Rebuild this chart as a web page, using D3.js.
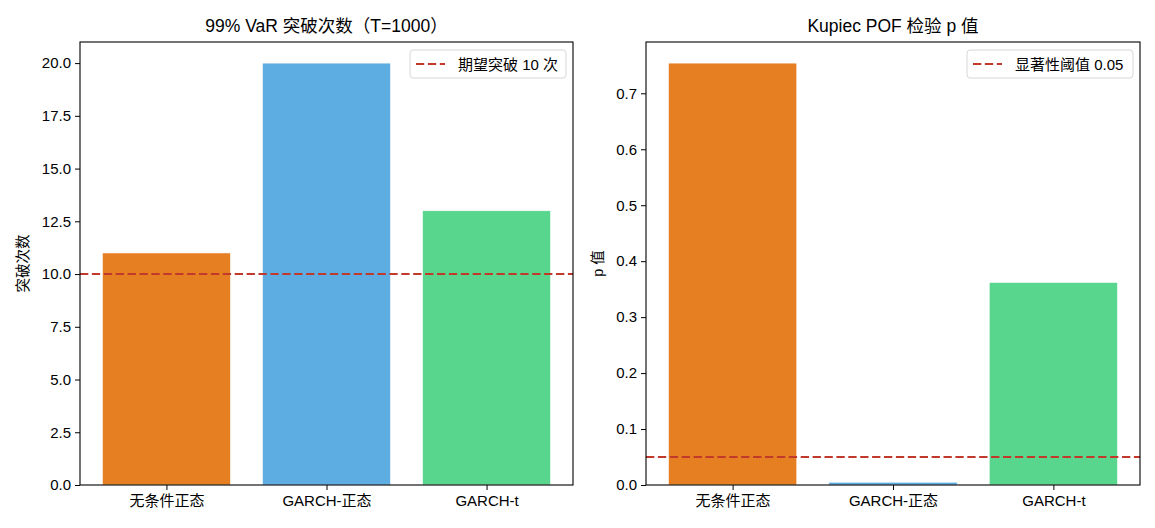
<!DOCTYPE html>
<html>
<head>
<meta charset="utf-8">
<script src="https://cdn.jsdelivr.net/npm/d3@7"></script>
<style>
  body { margin: 0; background: #fff; }
  svg text { font-family: "Liberation Sans", "Noto Sans CJK SC", sans-serif; fill: #000; }
</style>
</head>
<body>
<div id="chart"></div>
<script>
// Data
const models = ['无条件正态', 'GARCH-正态', 'GARCH-t'];
const barColors = ['#e67e22', '#5dade2', '#58d68d'];
const breachCounts = [11, 20, 13];
const expectedBreaches = 10;
const pValues = [0.754, 0.005, 0.362];
const alphaLevel = 0.05;
const countTicks = [0, 2.5, 5, 7.5, 10, 12.5, 15, 17.5, 20];
const pTicks = [0, 0.1, 0.2, 0.3, 0.4, 0.5, 0.6, 0.7];

const W = 1155, H = 528;
const svg = d3.select('#chart').append('svg')
  .attr('width', W)
  .attr('height', H);

function drawPanel(opts) {
  const { left, right, top, bottom } = opts.box;
  const g = svg.append('g');

  // x scale over categories, like matplotlib's bar positions with margins
  const x = d3.scaleLinear().domain([-0.54, 2.54]).range([left, right]);
  const y = d3.scaleLinear().domain([0, d3.max(opts.values) * 1.05]).range([bottom, top]);
  const bw = x(0.8) - x(0);

  // Bars
  g.selectAll('rect.bar')
    .data(opts.values)
    .enter().append('rect')
    .attr('class', 'bar')
    .attr('x', (d, i) => x(i) - bw / 2)
    .attr('y', d => y(d))
    .attr('width', bw)
    .attr('height', d => y(0) - y(d))
    .attr('fill', (d, i) => barColors[i])
    .attr('stroke', '#fff')
    .attr('stroke-width', 0.6);

  // Reference line
  g.append('line')
    .attr('x1', left).attr('x2', right)
    .attr('y1', y(opts.refValue)).attr('y2', y(opts.refValue))
    .attr('stroke', '#c0392b')
    .attr('stroke-width', 2)
    .attr('stroke-dasharray', '8.3,3.6');

  // Axes
  const yAxis = d3.axisLeft(y)
    .tickValues(opts.ticks)
    .tickFormat(opts.fmt)
    .tickSize(5)
    .tickPadding(4);
  const ya = g.append('g')
    .attr('transform', `translate(${left},0)`)
    .call(yAxis);
  ya.select('.domain').remove();
  ya.selectAll('text').attr('font-size', 15);
  ya.selectAll('line').attr('stroke', '#000').attr('stroke-width', 1);

  const xAxis = d3.axisBottom(x)
    .tickValues([0, 1, 2])
    .tickFormat(i => models[i])
    .tickSize(5)
    .tickPadding(5);
  const xa = g.append('g')
    .attr('transform', `translate(0,${bottom})`)
    .call(xAxis);
  xa.select('.domain').remove();
  xa.selectAll('text').attr('font-size', 15);
  xa.selectAll('line').attr('stroke', '#000').attr('stroke-width', 1);

  // Frame
  g.append('rect')
    .attr('x', left).attr('y', top)
    .attr('width', right - left).attr('height', bottom - top)
    .attr('fill', 'none')
    .attr('stroke', '#000')
    .attr('stroke-width', 1.1);

  // Title
  g.append('text')
    .attr('x', (left + right) / 2)
    .attr('y', top - 10)
    .attr('text-anchor', 'middle')
    .attr('font-size', 17.5)
    .text(opts.title);

  // Y label
  g.append('text')
    .attr('transform', `translate(${opts.ylabelX},${(top + bottom) / 2}) rotate(-90)`)
    .attr('text-anchor', 'middle')
    .attr('font-size', 14.5)
    .text(opts.ylabel);

  // Legend
  const lg = g.append('g').attr('transform', `translate(${right - 7 - opts.legendW},${top + 8})`);
  lg.append('rect')
    .attr('width', opts.legendW).attr('height', 28)
    .attr('rx', 3)
    .attr('fill', '#fff')
    .attr('fill-opacity', 0.8)
    .attr('stroke', '#d6d6d6')
    .attr('stroke-width', 1);
  lg.append('line')
    .attr('x1', 6).attr('x2', 35)
    .attr('y1', 14).attr('y2', 14)
    .attr('stroke', '#c0392b')
    .attr('stroke-width', 2)
    .attr('stroke-dasharray', '8.3,3.6');
  lg.append('text')
    .attr('x', 48)
    .attr('y', 19.5)
    .attr('font-size', 15)
    .text(opts.legendLabel);
}

drawPanel({
  box: { left: 80, right: 573, top: 42, bottom: 485 },
  values: breachCounts,
  refValue: expectedBreaches,
  ticks: countTicks,
  fmt: d3.format('.1f'),
  title: '99% VaR 突破次数（T=1000）',
  ylabel: '突破次数',
  ylabelX: 28,
  legendW: 156,
  legendLabel: '期望突破 10 次'
});

drawPanel({
  box: { left: 646, right: 1140, top: 42, bottom: 485 },
  values: pValues,
  refValue: alphaLevel,
  ticks: pTicks,
  fmt: d3.format('.1f'),
  title: 'Kupiec POF 检验 p 值',
  ylabel: 'p 值',
  ylabelX: 603,
  legendW: 166,
  legendLabel: '显著性阈值 0.05'
});
</script>
</body>
</html>
